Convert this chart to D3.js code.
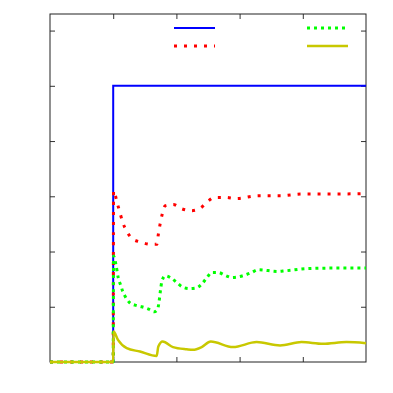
<!DOCTYPE html>
<html>
<head>
<meta charset="utf-8">
<script src="https://cdn.jsdelivr.net/npm/d3@7"></script>
<style>
  html, body { margin: 0; padding: 0; background: #fff; }
  svg { display: block; }
</style>
</head>
<body>
<svg id="chart" width="393" height="393"></svg>
<script>
// tick positions (no labels in the picture)
const xTicks = [1, 2, 3, 4];
const yTicks = [1, 2, 3, 4, 5, 6];

// series: [t, value]
const blueSeries = [[0, 0], [1, 0], [1, 5], [5, 5]];
const redSeries = [
  [0, 0], [1, 0], [1.005, 3.1], [1.065, 2.87], [1.108, 2.70], [1.15, 2.53], [1.214, 2.37],
  [1.302, 2.23], [1.44, 2.17], [1.593, 2.13], [1.69, 2.13], [1.714, 2.31], [1.741, 2.49],
  [1.772, 2.66], [1.824, 2.83], [1.951, 2.85], [2.093, 2.77], [2.242, 2.74], [2.384, 2.79],
  [2.479, 2.89], [2.611, 2.98], [2.77, 2.98], [2.95, 2.96], [3.3, 3.01], [3.65, 3.01],
  [4.0, 3.04], [4.4, 3.04], [5, 3.05]
];
const greenSeries = [
  [0, 0], [1, 0], [1.005, 1.92], [1.044, 1.76], [1.081, 1.52], [1.119, 1.39], [1.15, 1.28],
  [1.198, 1.17], [1.255, 1.08], [1.345, 1.03], [1.451, 1.0], [1.555, 0.96], [1.65, 0.91],
  [1.704, 0.96], [1.725, 1.09], [1.752, 1.33], [1.772, 1.47], [1.824, 1.56], [1.915, 1.52],
  [2.005, 1.44], [2.093, 1.36], [2.199, 1.33], [2.31, 1.34], [2.4, 1.41], [2.479, 1.52],
  [2.559, 1.62], [2.663, 1.62], [2.769, 1.57], [2.875, 1.53], [2.975, 1.54], [3.19, 1.62],
  [3.29, 1.67], [3.61, 1.64], [3.72, 1.65], [4.06, 1.69], [4.5, 1.7], [5, 1.7]
];
const yellowSeries = [
  [0, 0], [1, 0], [1.005, 0.55], [1.076, 0.40], [1.214, 0.25], [1.424, 0.19], [1.688, 0.11],
  [1.714, 0.28], [1.783, 0.37], [1.946, 0.27], [2.163, 0.23], [2.263, 0.22], [2.4, 0.27],
  [2.543, 0.37], [2.896, 0.27], [3.27, 0.36], [3.64, 0.30], [3.98, 0.36], [4.32, 0.33],
  [4.69, 0.36], [5, 0.34]
];

const svg = d3.select('#chart');
const plotLeft = 50, plotRight = 366, plotTop = 14, plotBottom = 362;

const x = d3.scaleLinear().domain([0, 5]).range([plotLeft, plotRight]);
const y = d3.scaleLinear().domain([0, 6.3]).range([plotBottom, plotTop]);

// ticks, pointing inward like gnuplot
const axes = svg.append('g').attr('class', 'axes');
const tickStyle = (g) => {
  g.select('.domain').remove();
  g.selectAll('line').attr('stroke', '#333');
};
axes.append('g').attr('transform', `translate(${plotLeft},0)`)
  .call(d3.axisLeft(y).tickValues(yTicks).tickSize(-5).tickFormat('')).call(tickStyle);
axes.append('g').attr('transform', `translate(${plotRight},0)`)
  .call(d3.axisRight(y).tickValues(yTicks).tickSize(-5).tickFormat('')).call(tickStyle);
axes.append('g').attr('transform', `translate(0,${plotBottom})`)
  .call(d3.axisBottom(x).tickValues(xTicks).tickSize(-5).tickFormat('')).call(tickStyle);
axes.append('g').attr('transform', `translate(0,${plotTop})`)
  .call(d3.axisTop(x).tickValues(xTicks).tickSize(-5).tickFormat('')).call(tickStyle);

svg.append('rect')
  .attr('x', plotLeft).attr('y', plotTop)
  .attr('width', plotRight - plotLeft).attr('height', plotBottom - plotTop)
  .attr('fill', 'none').attr('stroke', '#222').attr('stroke-width', 1);

const stepLine = d3.line().x((d) => x(d[0])).y((d) => y(d[1]));
const smoothLine = d3.line().x((d) => x(d[0])).y((d) => y(d[1])).curve(d3.curveMonotoneX);

const series = [
  { data: blueSeries, gen: stepLine, color: '#0000ff', width: 2, dash: null },
  { data: redSeries, gen: smoothLine, color: '#ff0000', width: 3, dash: '3,7' },
  { data: greenSeries, gen: smoothLine, color: '#00ff00', width: 3, dash: '3,4' },
  { data: yellowSeries, gen: smoothLine, color: '#c8c800', width: 2.5, dash: null },
];

series.forEach((s) => {
  svg.append('path')
    .attr('d', s.gen(s.data))
    .attr('fill', 'none')
    .attr('stroke', s.color)
    .attr('stroke-width', s.width)
    .attr('stroke-dasharray', s.dash);
});

// legend samples (no text in the picture)
const legend = [
  { x1: 174, x2: 215, y: 28, s: series[0] },
  { x1: 174, x2: 215, y: 46, s: series[1] },
  { x1: 307, x2: 347, y: 28, s: series[2] },
  { x1: 307, x2: 348, y: 46, s: series[3] },
];
legend.forEach((l) => {
  svg.append('line')
    .attr('x1', l.x1).attr('x2', l.x2).attr('y1', l.y).attr('y2', l.y)
    .attr('stroke', l.s.color).attr('stroke-width', l.s.width)
    .attr('stroke-dasharray', l.s.dash);
});
</script>
</body>
</html>
